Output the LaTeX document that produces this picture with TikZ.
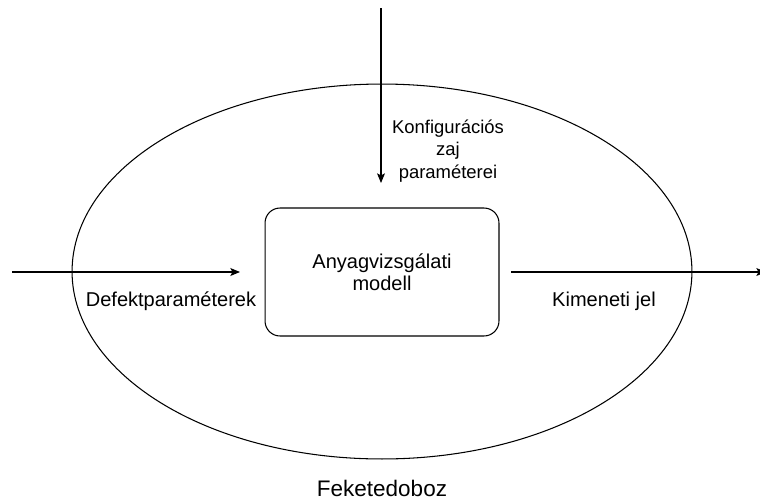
\documentclass[tikz,border=0pt]{standalone}
\usepackage{fontspec}
\setmainfont{Liberation Sans}
\usetikzlibrary{shapes.geometric,arrows.meta}
\tikzset{
  wire/.style={line width=0.6pt, -{Stealth[length=5.5pt, width=4.5pt, inset=1.2pt]}},
  lbl/.style={font=\fontsize{11.4}{12.6}\selectfont, inner sep=0pt, align=center},
  modelbox/.style={draw, line width=0.6pt, rounded corners=0.3cm, minimum width=4.68cm,
                   minimum height=2.56cm, font=\fontsize{11.4}{12.6}\selectfont, align=center},
}

\begin{document}
\begin{tikzpicture}[x=0.02cm, y=-0.02cm]
    \useasboundingbox (0,0) rectangle (760,501);
    \node[draw, ellipse, line width=0.6pt, minimum width=12.4cm, minimum height=7.5cm, inner sep=0pt] (blackbox) at (382,271.5) {};
    \node[modelbox] (mdl) at (382,272) {Anyagvizsgálati\\modell};
    \coordinate (cfgin) at (381,8);
    \coordinate (cfgend) at (381,183);
    \coordinate (defin) at (12,272);
    \coordinate (defend) at (240,272);
    \coordinate (outend) at (766,272);
    \draw[wire] (cfgin) -- (cfgend);
    \draw[wire] (defin) -- (defend);
    \draw[wire] (mdl.east -| 511,0) -- (outend);
    \node[lbl, font=\fontsize{10.5}{13}\selectfont] (cfglbl) at (448,151) {Konfigurációs\\zaj\\paraméterei};
    \node[lbl] (deflbl) at (171,301) {Defektparaméterek};
    \node[lbl] (outlbl) at (604,301) {Kimeneti jel};
    \node[lbl, font=\fontsize{12.8}{14}\selectfont] (boxlbl) at (382,488) {Feketedoboz};
  \end{tikzpicture}
\end{document}
